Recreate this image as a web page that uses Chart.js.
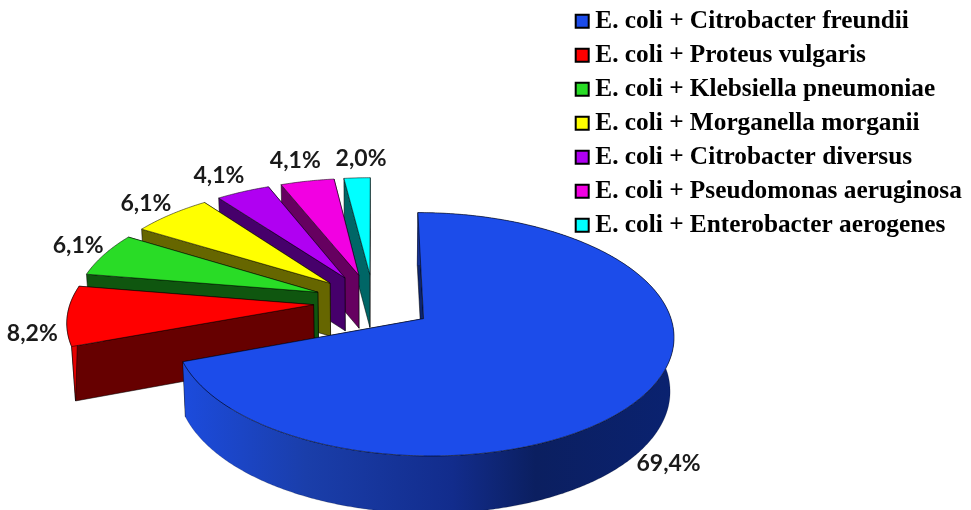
<!DOCTYPE html>
<html>
<head>
<meta charset="utf-8">
<script src="https://cdn.jsdelivr.net/npm/chart.js@4"></script>
<style>
  body { margin: 0; background: #fff; }
</style>
</head>
<body>
<canvas id="myChart" width="971" height="510"></canvas>
<script>
const categories = [
    'E. coli + Citrobacter freundii',
    'E. coli + Proteus vulgaris',
    'E. coli + Klebsiella pneumoniae',
    'E. coli + Morganella morganii',
    'E. coli + Citrobacter diversus',
    'E. coli + Pseudomonas aeruginosa',
    'E. coli + Enterobacter aerogenes'
];
const shares = [69.4, 8.2, 6.1, 6.1, 4.1, 4.1, 2.0];

const topColors = ['#1c4cea', '#ff0000', '#29dc26', '#ffff00', '#b000f2', '#f200e2', '#00ffff'];
const wallColors = ['#0c2470', '#660000', '#0f560f', '#666600', '#46006b', '#660060', '#006666'];
const labelShift = [[22, 71], [-35, 18], [-26, -9], [-25, -11], [-24, -16], [-12, -21], [4, -19]];

const EXPLODE = 60;
const RADIUS = 243;
const DEPTH = 53;
// camera: the flat pie is tilted back, far side shrinks
const CAM = { cx: 373.5, cy: 302, tilt: 0.475, persp: 0.00052, taper: 0.013 };

function project(u, v, z) {
    const w = 1 - CAM.persp * v;
    const drop = DEPTH * z * (1 + Math.max(0, v) * 0.0003);
    return [CAM.cx + u / w * (1 - CAM.taper * z), CAM.cy + CAM.tilt * v / w + drop];
}

function rimPoints(arc, z) {
    const off = arc.options.offset;
    const mid = (arc.startAngle + arc.endAngle) / 2;
    const ox = Math.cos(mid) * off, oy = Math.sin(mid) * off;
    const steps = Math.ceil((arc.endAngle - arc.startAngle) / 0.01);
    const pts = [];
    for (let i = 0; i <= steps; i++) {
        const a = arc.startAngle + (arc.endAngle - arc.startAngle) * i / steps;
        pts.push(project(ox + Math.cos(a) * arc.outerRadius, oy + Math.sin(a) * arc.outerRadius, z));
    }
    return { pts, apex: project(ox, oy, z) };
}

function fillPoly(ctx, pts, fill, line) {
    ctx.beginPath();
    pts.forEach((p, i) => i ? ctx.lineTo(p[0], p[1]) : ctx.moveTo(p[0], p[1]));
    ctx.closePath();
    ctx.fillStyle = fill;
    ctx.fill();
    ctx.strokeStyle = line;
    ctx.lineWidth = 0.7;
    ctx.lineJoin = 'round';
    ctx.stroke();
}

function blueRim(ctx) {
    const g = ctx.createLinearGradient(185, 0, 672, 0);
    g.addColorStop(0, '#1c4bdc');
    g.addColorStop(0.25, '#1a3eaa');
    g.addColorStop(0.55, '#122c8c');
    g.addColorStop(0.72, '#0b1f60');
    g.addColorStop(1, '#0a2270');
    return g;
}

const pie3d = {
    id: 'pie3d',
    afterLayout(chart) {
        // legend sits in the top right corner, over the chart area
        const lg = chart.legend;
        lg.left = 573;
        lg.right = 971;
        lg.top = 0;
        lg.bottom = 250;
    },
    beforeDatasetDraw(chart, args) {
        const ctx = chart.ctx;
        const arcs = args.meta.data;
        // back to front, the big slice last
        const order = arcs.map((a, i) => i).slice(1).reverse().concat(0);
        order.forEach(i => {
            const top = rimPoints(arcs[i], 0);
            const low = rimPoints(arcs[i], 1);
            const edge = 'rgba(0,0,0,0.75)';
            const last = top.pts.length - 1;
            // far cut wall, near cut wall, rim, then the top face
            const ends = top.pts[0][1] < top.pts[last][1] ? [0, last] : [last, 0];
            ends.forEach(e => {
                fillPoly(ctx, [top.apex, top.pts[e], low.pts[e], low.apex], wallColors[i], edge);
            });
            // the rim of the back slices faces away, only these two show one
            if (i === 0) fillPoly(ctx, top.pts.concat(low.pts.slice().reverse()), blueRim(ctx), 'rgba(0,0,0,0.25)');
            if (i === 1) fillPoly(ctx, top.pts.concat([low.pts[0]]), '#e60000', edge);
            fillPoly(ctx, [top.apex].concat(top.pts), topColors[i], edge);
        });
        return false;
    },
    afterDatasetsDraw(chart) {
        const ctx = chart.ctx;
        const arcs = chart.getDatasetMeta(0).data;
        ctx.save();
        ctx.font = 'bold 23px Lato';
        ctx.fillStyle = '#1a1a1a';
        ctx.textAlign = 'center';
        ctx.textBaseline = 'middle';
        arcs.forEach((arc, i) => {
            const mid = (arc.startAngle + arc.endAngle) / 2;
            const r = arc.options.offset + arc.outerRadius;
            const p = project(Math.cos(mid) * r, Math.sin(mid) * r, 0);
            const txt = shares[i].toFixed(1).replace('.', ',') + '%';
            ctx.fillText(txt, p[0] + labelShift[i][0], p[1] + labelShift[i][1]);
        });
        ctx.restore();
    }
};

new Chart(document.getElementById('myChart'), {
    type: 'pie',
    plugins: [pie3d],
    data: {
        labels: categories,
        datasets: [{
            data: shares,
            backgroundColor: topColors,
            borderColor: '#111',
            borderWidth: 1,
            offset: EXPLODE,
            radius: RADIUS
        }]
    },
    options: {
        responsive: false,
        animation: false,
        events: [],
        radius: RADIUS,
        plugins: {
            tooltip: { enabled: false },
            legend: {
                position: 'chartArea',
                align: 'start',
                labels: {
                    font: { family: 'Liberation Serif', size: 25.3, weight: 'bold' },
                    color: '#000',
                    padding: 8.7,
                    boxWidth: 1,
                    boxHeight: 13,
                    usePointStyle: true,
                    pointStyle: 'rect',
                    generateLabels: chart => categories.map((c, i) => ({
                        text: c,
                        fillStyle: topColors[i],
                        strokeStyle: '#000',
                        lineWidth: 2,
                        pointStyle: 'rect',
                        index: i
                    }))
                }
            }
        }
    }
});
</script>
</body>
</html>
